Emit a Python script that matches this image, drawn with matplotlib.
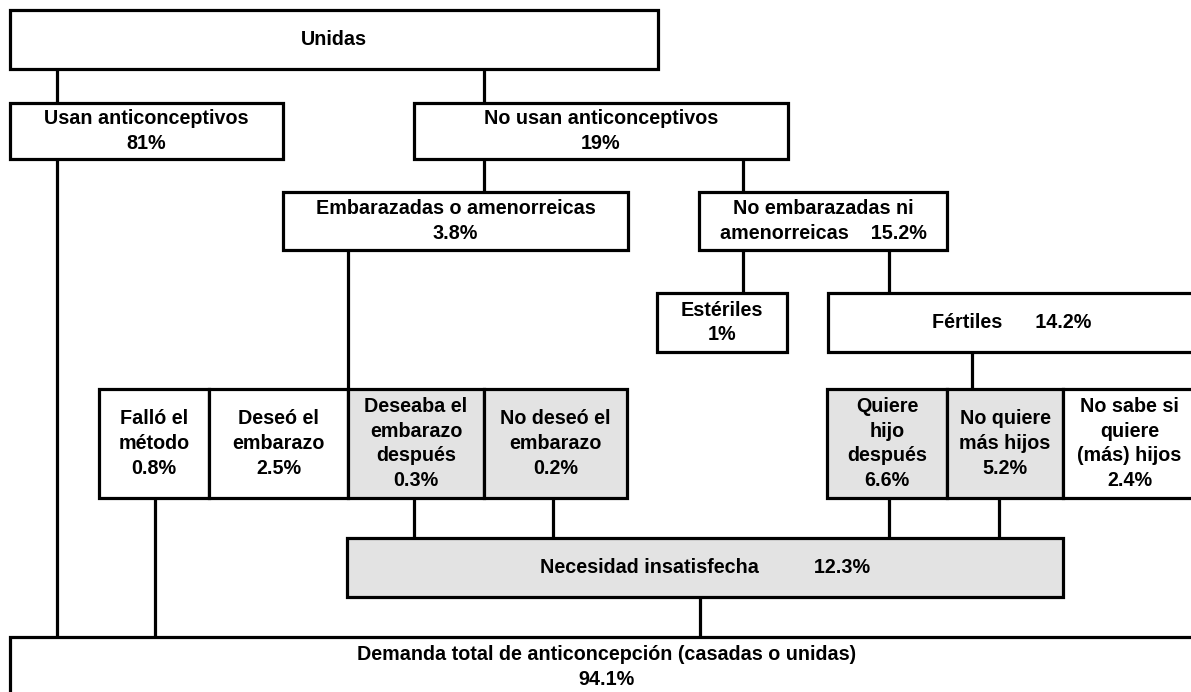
import matplotlib
matplotlib.use("Agg")
import matplotlib.pyplot as plt
from matplotlib.patches import Rectangle

# Datos del diagrama: etiquetas y porcentajes de cada nodo
etiquetas = [
    "Unidas",
    "Usan anticonceptivos",
    "No usan anticonceptivos",
    "Embarazadas o amenorreicas",
    "No embarazadas ni\namenorreicas",
    "Estériles",
    "Fértiles",
    "Falló el\nmétodo",
    "Deseó el\nembarazo",
    "Deseaba el\nembarazo\ndespués",
    "No deseó el\nembarazo",
    "Quiere\nhijo\ndespués",
    "No quiere\nmás hijos",
    "No sabe si\nquiere\n(más) hijos",
    "Necesidad insatisfecha",
    "Demanda total de anticoncepción (casadas o unidas)",
]
porcentajes = [None, 81, 19, 3.8, 15.2, 1, 14.2, 0.8, 2.5, 0.3, 0.2, 6.6, 5.2, 2.4, 12.3, 94.1]
# nodos que forman la necesidad insatisfecha (sombreados)
sombreados = ["Deseaba el\nembarazo\ndespués", "No deseó el\nembarazo",
              "Quiere\nhijo\ndespués", "No quiere\nmás hijos", "Necesidad insatisfecha"]

# Disposición (en píxeles de la imagen): x0, y0, x1, y1 y forma del texto
cajas = [
    (10, 10, 658, 69, "{e}"),
    (10, 103, 283, 159, "{e}\n{p}"),
    (414, 103, 788, 159, "{e}\n{p}"),
    (283, 192, 628, 250, "{e}\n{p}"),
    (699, 192, 947, 250, "{e}    {p}"),
    (657, 293, 787, 352, "{e}\n{p}"),
    (828, 293, 1196, 352, "{e}      {p}"),
    (99, 389, 209, 498, "{e}\n{p}"),
    (209, 389, 348, 498, "{e}\n{p}"),
    (348, 389, 484, 498, "{e}\n{p}"),
    (484, 389, 627, 498, "{e}\n{p}"),
    (827, 389, 947, 498, "{e}\n{p}"),
    (947, 389, 1063, 498, "{e}\n{p}"),
    (1063, 389, 1196, 498, "{e}\n{p}"),
    (347, 538, 1063, 597, "{e}          {p}"),
    (10, 637, 1203, 697, "{e}\n{p}"),
]
# conectores verticales: x, y inicial, y final
conectores = [
    (57, 69, 103), (484, 69, 103),
    (57, 159, 637), (484, 159, 192), (743, 159, 192),
    (348, 250, 389), (743, 250, 293), (889, 250, 293),
    (972, 352, 389),
    (155, 498, 637), (414, 498, 538), (553, 498, 538),
    (889, 498, 538), (999, 498, 538),
    (700, 597, 637),
]

GRIS = "#e3e3e3"
LW = 2.3

fig = plt.figure(figsize=(11.91, 6.92), dpi=100)
ax = fig.add_axes([0, 0, 1, 1])
ax.set_xlim(0, 1191)
ax.set_ylim(692, 0)
ax.axis("off")

for x, y0, y1 in conectores:
    ax.plot([x, x], [y0, y1], color="black", lw=LW, solid_capstyle="butt", zorder=1)

for etiqueta, pct, (x0, y0, x1, y1, forma) in zip(etiquetas, porcentajes, cajas):
    color = GRIS if etiqueta in sombreados else "white"
    ax.add_patch(Rectangle((x0, y0), x1 - x0, y1 - y0, facecolor=color,
                           edgecolor="black", lw=LW, joinstyle="miter", zorder=2))
    texto = etiqueta if pct is None else forma.format(e=etiqueta, p=f"{pct:g}%")
    ax.text((x0 + x1) / 2, (y0 + y1) / 2, texto, ha="center", va="center", ma="center",
            fontsize=14.2, fontweight="bold", family="Liberation Sans",
            linespacing=1.38, zorder=3)

fig.savefig("out.png", dpi=100)
